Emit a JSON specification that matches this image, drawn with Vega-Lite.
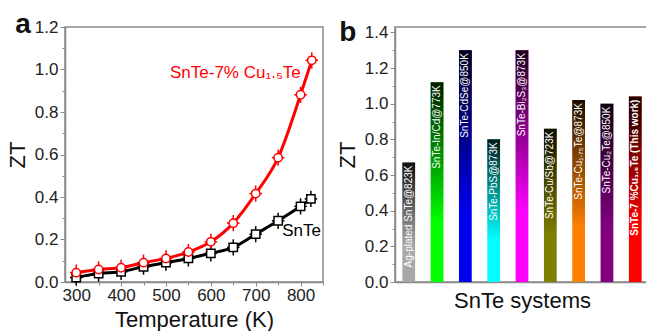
{
  "$schema": "https://vega.github.io/schema/vega-lite/v6.json",
  "background": "white",
  "padding": {"left": 5, "top": 10, "right": 0, "bottom": 0},
  "bounds": "flush",
  "spacing": 72,
  "resolve": {"scale": {"color": "independent", "stroke": "independent", "shape": "independent"}},
  "datasets": {
    "zt": [
      {"T": 300, "ZT": 0.021, "series": "SnTe", "xerr": 14, "yerr": 0.038},
      {"T": 350, "ZT": 0.040, "series": "SnTe", "xerr": 14, "yerr": 0.038},
      {"T": 400, "ZT": 0.048, "series": "SnTe", "xerr": 14, "yerr": 0.038},
      {"T": 450, "ZT": 0.072, "series": "SnTe", "xerr": 14, "yerr": 0.038},
      {"T": 500, "ZT": 0.091, "series": "SnTe", "xerr": 14, "yerr": 0.038},
      {"T": 550, "ZT": 0.111, "series": "SnTe", "xerr": 14, "yerr": 0.038},
      {"T": 600, "ZT": 0.135, "series": "SnTe", "xerr": 14, "yerr": 0.038},
      {"T": 650, "ZT": 0.163, "series": "SnTe", "xerr": 14, "yerr": 0.038},
      {"T": 700, "ZT": 0.225, "series": "SnTe", "xerr": 14, "yerr": 0.038},
      {"T": 750, "ZT": 0.288, "series": "SnTe", "xerr": 14, "yerr": 0.038},
      {"T": 800, "ZT": 0.356, "series": "SnTe", "xerr": 14, "yerr": 0.038},
      {"T": 823, "ZT": 0.391, "series": "SnTe", "xerr": 14, "yerr": 0.038},
      {"T": 300, "ZT": 0.044, "series": "SnTe-7% Cu₁.₅Te", "xerr": 14, "yerr": 0.038},
      {"T": 350, "ZT": 0.059, "series": "SnTe-7% Cu₁.₅Te", "xerr": 14, "yerr": 0.038},
      {"T": 400, "ZT": 0.067, "series": "SnTe-7% Cu₁.₅Te", "xerr": 14, "yerr": 0.038},
      {"T": 450, "ZT": 0.091, "series": "SnTe-7% Cu₁.₅Te", "xerr": 14, "yerr": 0.038},
      {"T": 500, "ZT": 0.111, "series": "SnTe-7% Cu₁.₅Te", "xerr": 14, "yerr": 0.038},
      {"T": 550, "ZT": 0.141, "series": "SnTe-7% Cu₁.₅Te", "xerr": 14, "yerr": 0.038},
      {"T": 600, "ZT": 0.189, "series": "SnTe-7% Cu₁.₅Te", "xerr": 14, "yerr": 0.038},
      {"T": 650, "ZT": 0.277, "series": "SnTe-7% Cu₁.₅Te", "xerr": 14, "yerr": 0.038},
      {"T": 700, "ZT": 0.416, "series": "SnTe-7% Cu₁.₅Te", "xerr": 14, "yerr": 0.038},
      {"T": 750, "ZT": 0.585, "series": "SnTe-7% Cu₁.₅Te", "xerr": 14, "yerr": 0.038},
      {"T": 800, "ZT": 0.881, "series": "SnTe-7% Cu₁.₅Te", "xerr": 14, "yerr": 0.038},
      {"T": 825, "ZT": 1.043, "series": "SnTe-7% Cu₁.₅Te", "xerr": 14, "yerr": 0.038}
    ],
    "labelsA": [
      {"T": 509, "ZT": 0.984, "series": "SnTe-7% Cu₁.₅Te", "text": "SnTe-7% Cu₁.₅Te"},
      {"T": 759, "ZT": 0.24, "series": "SnTe", "text": "SnTe"}
    ],
    "systems": [
      {"system": "Ag-plated SnTe@823K", "ZT": 0.67, "thisWork": false},
      {"system": "SnTe-In/Cd@773K", "ZT": 1.12, "thisWork": false},
      {"system": "SnTe-CdSe@850K", "ZT": 1.30, "thisWork": false},
      {"system": "SnTe-PbS@873K", "ZT": 0.80, "thisWork": false},
      {"system": "SnTe-Bi₂S₃@873K", "ZT": 1.30, "thisWork": false},
      {"system": "SnTe-Cu/Sb@723K", "ZT": 0.86, "thisWork": false},
      {"system": "SnTe-Cu₁.₇₅Te@873K", "ZT": 1.02, "thisWork": false},
      {"system": "SnTe-Cu₂Te@850K", "ZT": 1.00, "thisWork": false},
      {"system": "SnTe-7 %Cu₁.₅Te (This work)", "ZT": 1.04, "thisWork": true}
    ]
  },
  "config": {
    "font": "Liberation Sans",
    "view": {"stroke": "#8a8a8a", "strokeWidth": 1.5},
    "axis": {
      "domainColor": "#8a8a8a", "domainWidth": 1.5,
      "tickColor": "#8a8a8a", "tickWidth": 1,
      "labelColor": "#222222", "labelFontSize": 17, "labelFont": "Liberation Sans",
      "titleColor": "#111111", "titleFontSize": 22, "titleFontWeight": "normal", "titleFont": "Liberation Sans",
      "grid": false
    },
    "legend": {"disable": true}
  },
  "hconcat": [
    {
      "width": 258,
      "height": 255,
      "title": {"text": "a", "anchor": "start", "frame": "bounds", "fontSize": 28, "fontWeight": "bold", "color": "#111111", "offset": -27, "baseline": "alphabetic", "dx": 9, "dy": 16},
      "encoding": {
        "x": {"field": "T", "type": "quantitative", "scale": {"domain": [275, 850], "nice": false, "zero": false},
          "axis": {"values": [300, 350, 400, 450, 500, 550, 600, 650, 700, 750, 800, 850],
            "labelExpr": "datum.value % 100 == 0 && datum.value <= 800 ? format(datum.value, 'd') : ''",
            "tickSize": {"condition": {"test": "datum.value % 100 != 0", "value": 3}, "value": 4},
            "title": "Temperature (K)", "titlePadding": 6, "labelPadding": 1}},
        "y": {"field": "ZT", "type": "quantitative", "scale": {"domain": [0, 1.2], "nice": false},
          "axis": {"values": [0, 0.1, 0.2, 0.3, 0.4, 0.5, 0.6, 0.7, 0.8, 0.9, 1.0, 1.1, 1.2],
            "labelExpr": "round(datum.value*10) % 2 == 0 ? format(datum.value, '.1f') : ''",
            "tickSize": {"condition": {"test": "round(datum.value*10) % 2 == 1", "value": 3}, "value": 5},
            "title": "ZT", "titlePadding": 5, "labelPadding": 2}}
      },
      "layer": [
        {
          "data": {"name": "zt"},
          "mark": {"type": "line", "strokeWidth": 3, "interpolate": "monotone"},
          "encoding": {
            "color": {"field": "series", "type": "nominal", "scale": {"domain": ["SnTe", "SnTe-7% Cu₁.₅Te"], "range": ["#000000", "#ff0000"]}}
          }
        },
        {
          "data": {"name": "zt"},
          "mark": {"type": "errorbar", "thickness": 1.5},
          "encoding": {
            "yError": {"field": "yerr"},
            "color": {"field": "series", "type": "nominal"}
          }
        },
        {
          "data": {"name": "zt"},
          "mark": {"type": "errorbar", "thickness": 1.5},
          "encoding": {
            "xError": {"field": "xerr"},
            "color": {"field": "series", "type": "nominal"}
          }
        },
        {
          "data": {"name": "zt"},
          "mark": {"type": "point", "filled": true, "fill": "white", "strokeWidth": 1.5, "size": 70, "opacity": 1},
          "encoding": {
            "stroke": {"field": "series", "type": "nominal", "scale": {"domain": ["SnTe", "SnTe-7% Cu₁.₅Te"], "range": ["#000000", "#ff0000"]}},
            "shape": {"field": "series", "type": "nominal", "scale": {"domain": ["SnTe", "SnTe-7% Cu₁.₅Te"], "range": ["square", "circle"]}}
          }
        },
        {
          "data": {"name": "labelsA"},
          "mark": {"type": "text", "align": "left", "baseline": "middle", "fontSize": 17},
          "encoding": {
            "text": {"field": "text"},
            "color": {"field": "series", "type": "nominal"}
          }
        }
      ]
    },
    {
      "width": 254,
      "height": 255,
      "title": {"text": "b", "anchor": "start", "frame": "bounds", "fontSize": 28, "fontWeight": "bold", "color": "#111111", "offset": -27, "baseline": "alphabetic", "dx": 3, "dy": 19},
      "data": {"name": "systems"},
      "encoding": {
        "x": {"field": "system", "type": "nominal", "sort": null,
          "scale": {"paddingInner": 0.55, "paddingOuter": 0.26},
          "axis": {"labels": false, "ticks": false, "title": "SnTe systems", "titlePadding": 8}},
        "y": {"field": "ZT", "type": "quantitative", "scale": {"domain": [0, 1.43], "nice": false},
          "axis": {"values": [0, 0.1, 0.2, 0.3, 0.4, 0.5, 0.6, 0.7, 0.8, 0.9, 1.0, 1.1, 1.2, 1.3, 1.4],
            "labelExpr": "round(datum.value*10) % 2 == 0 ? format(datum.value, '.1f') : ''",
            "tickSize": {"condition": {"test": "round(datum.value*10) % 2 == 1", "value": 3}, "value": 5},
            "title": "ZT", "titlePadding": 5, "labelPadding": 2}}
      },
      "layer": [
        {
          "mark": {"type": "bar"},
          "encoding": {
            "color": {"field": "system", "type": "nominal", "sort": null,
              "scale": {"domain": ["Ag-plated SnTe@823K", "SnTe-In/Cd@773K", "SnTe-CdSe@850K", "SnTe-PbS@873K", "SnTe-Bi₂S₃@873K", "SnTe-Cu/Sb@723K", "SnTe-Cu₁.₇₅Te@873K", "SnTe-Cu₂Te@850K", "SnTe-7 %Cu₁.₅Te (This work)"],
                "range": ["#a8a8a8", "#00ff00", "#0000f0", "#00ffff", "#ff00ff", "#808000", "#ff8000", "#800080", "#ff0000"]}}
          }
        },
        {
          "mark": {"type": "bar", "fill": {"gradient": "linear", "x1": 0, "y1": 0, "x2": 0, "y2": 1,
            "stops": [{"offset": 0, "color": "rgba(0,0,0,0.9)"}, {"offset": 0.35, "color": "rgba(0,0,0,0.45)"}, {"offset": 0.7, "color": "rgba(0,0,0,0)"}]}},
          "encoding": {}
        },
        {
          "transform": [{"filter": "!datum.thisWork"}],
          "mark": {"type": "text", "angle": 270, "align": "right", "baseline": "middle", "dx": -3, "fontSize": 10, "color": "white"},
          "encoding": {"text": {"field": "system"}}
        },
        {
          "transform": [{"filter": "datum.thisWork"}],
          "mark": {"type": "text", "angle": 270, "align": "right", "baseline": "middle", "dx": -3, "fontSize": 10, "fontWeight": "bold", "color": "white"},
          "encoding": {"text": {"field": "system"}}
        }
      ]
    }
  ]
}
